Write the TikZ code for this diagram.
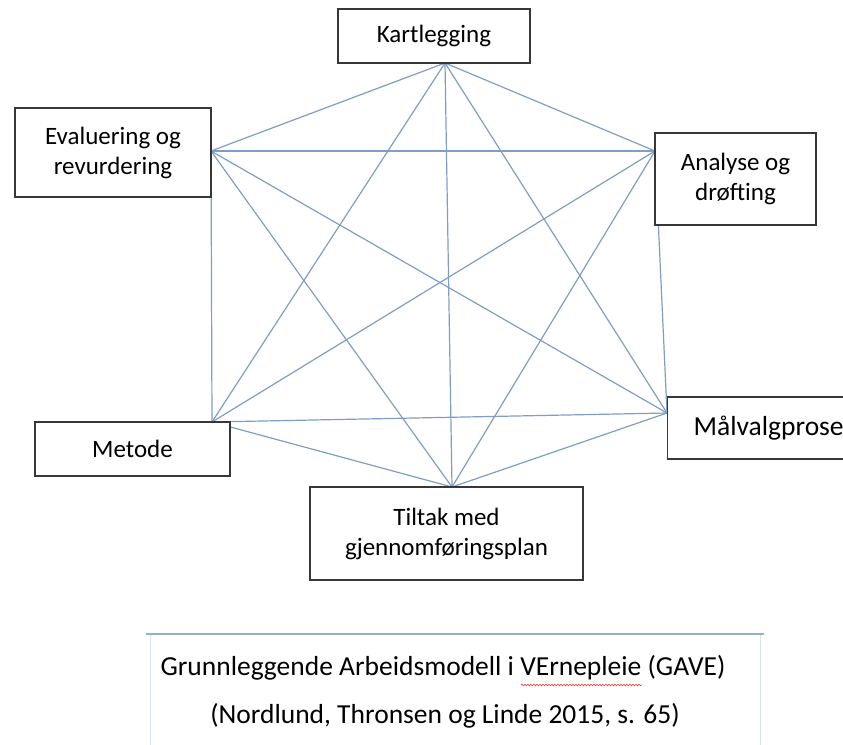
\documentclass[tikz,border=0pt]{standalone}
\usepackage{fontspec}
\setmainfont{Carlito}
\usetikzlibrary{positioning,decorations.pathmorphing}
\definecolor{linkblue}{RGB}{128,158,196}
\definecolor{framegrey}{RGB}{55,55,55}
\definecolor{captionblue}{RGB}{150,175,200}

\begin{document}
\begin{tikzpicture}[x=1pt,y=-1pt,
    stepbox/.style={draw=framegrey, line width=1.4pt, fill=white, inner sep=0pt,
      align=center, font=\fontsize{25}{30}\selectfont},
    link/.style={draw=linkblue, line width=1.2pt},
    caption/.style={font=\fontsize{27.5}{32}\selectfont, inner sep=0pt}]
    \useasboundingbox (0,0) rectangle (843,744);
    \clip (0,0) rectangle (843,744);

    % Meeting points of the connectors on the boxes
    \coordinate (pK) at (445,63);
    \coordinate (pE) at (211,151);
    \coordinate (pA) at (655,151);
    \coordinate (pM) at (212,422);
    \coordinate (pV) at (667,413);
    \coordinate (pT) at (452,487);

    % Connectors, every box to every other box
    \foreach \a/\b in {pK/pE,pK/pA,pK/pM,pK/pV,pK/pT,pE/pA,pE/pM,pE/pV,pE/pT,
                       pA/pM,pA/pV,pA/pT,pM/pV,pM/pT,pV/pT}
        \draw[link] (\a) -- (\b);

    % Boxes
    \node[stepbox, minimum width=192, minimum height=54] (kart) at (434,36) {Kartlegging};
    \node[stepbox, minimum width=196, minimum height=89] (eval) at (113,152.5) {Evaluering og\\revurdering};
    \node[stepbox, minimum width=161, minimum height=92] (anal) at (735.5,179) {Analyse og\\drøfting};
    \node[stepbox, minimum width=195, minimum height=54] (meto) at (132.5,449) {Metode};
    \node[stepbox, anchor=west, text width=150, align=left, inner xsep=26,
          minimum height=62, font=\fontsize{27.5}{32}\selectfont] (malv) at (667,428) {Målvalgprose};
    \node[stepbox, minimum width=273, minimum height=93] (tilt) at (446.5,533.5) {Tiltak med\\gjennomføringsplan};

    % Caption
    \draw[captionblue!35, line width=0.8pt] (150,760) -- (150,634) (760,634) -- (760,760);
    \draw[captionblue, line width=1.2pt] (146,634) -- (764,634);
    \node[caption] (title) at (443,668) {Grunnleggende Arbeidsmodell i VErnepleie (GAVE)};
    \node[caption] (source) at (445,716) {(Nordlund, Thronsen og Linde 2015, s. 65)};
    \draw[red!80, line width=0.6pt, decorate,
          decoration={snake, amplitude=0.8pt, segment length=3pt}] (521,685) -- (642,685);
\end{tikzpicture}
\end{document}
